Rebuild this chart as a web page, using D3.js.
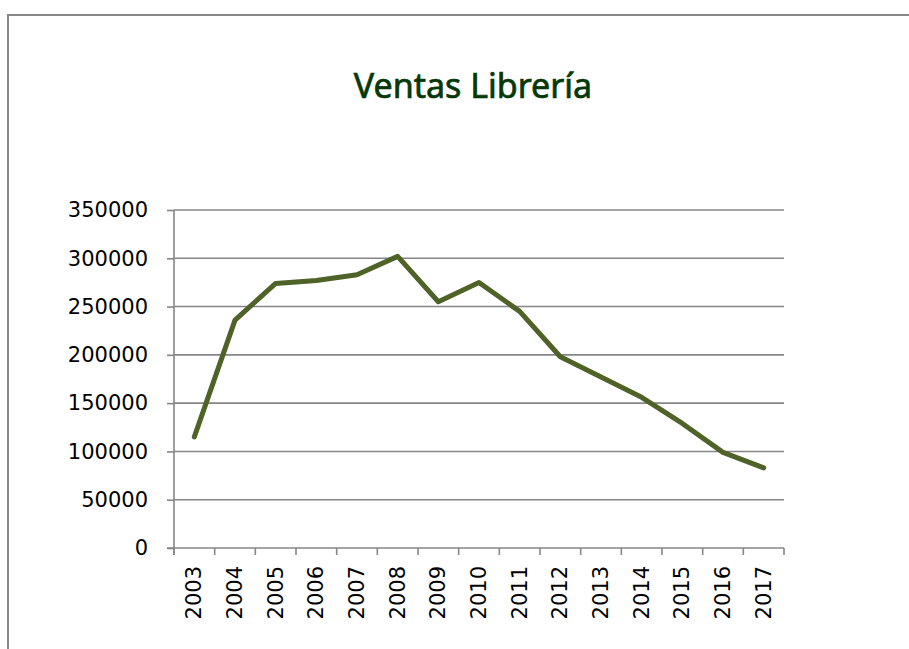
<!DOCTYPE html>
<html>
<head>
<meta charset="utf-8">
<script src="https://cdn.jsdelivr.net/npm/d3@7"></script>
<style>
  body { margin: 0; background: #fff; }
  svg { display: block; }
</style>
</head>
<body>
<div id="chart"></div>
<script>
// Data
const years = ["2003", "2004", "2005", "2006", "2007", "2008", "2009", "2010",
  "2011", "2012", "2013", "2014", "2015", "2016", "2017"]
const sales = [115000, 236000, 274000, 277000, 283000, 302000, 255000, 275000,
  245000, 198000, 177000, 156000, 129000, 99000, 83000]
const yTicks = [0, 50000, 100000, 150000, 200000, 250000, 300000, 350000]
const title = "Ventas Librería"

const W = 909, H = 649
const margin = { top: 210, bottom: 101, left: 174, right: 125 }
const width = W - margin.left - margin.right
const height = H - margin.top - margin.bottom

const svg = d3.select("#chart").append("svg")
  .attr("width", W)
  .attr("height", H)

// outer chart frame (only top and left edges are visible)
svg.append("path")
  .attr("d", `M8,${H} V15 H${W}`)
  .attr("fill", "none")
  .attr("stroke", "#898989")
  .attr("stroke-width", 2)

svg.append("text")
  .attr("x", 473)
  .attr("y", 98)
  .attr("text-anchor", "middle")
  .attr("font-family", "'Noto Sans', sans-serif")
  .attr("font-size", 34)
  .attr("fill", "#063806")
  .attr("stroke", "#063806")
  .attr("stroke-width", 0.7)
  .text(title)

const g = svg.append("g").attr("transform", `translate(${margin.left},${margin.top})`)

// Scales
const xscale = d3.scaleBand().domain(years).range([0, width])
const yscale = d3.scaleLinear().domain([0, 350000]).range([height, 0])

// gridlines
g.append("g")
  .selectAll("line")
  .data(yTicks.slice(1))
  .join("line")
  .attr("x1", 0)
  .attr("x2", width)
  .attr("y1", (d) => yscale(d))
  .attr("y2", (d) => yscale(d))
  .attr("stroke", "#868686")
  .attr("stroke-width", 1.6)

// y axis
const yaxis = d3.axisLeft(yscale).tickValues(yTicks).tickFormat(d3.format("d"))
  .tickSize(7).tickPadding(19)
const g_yaxis = g.append("g").call(yaxis)
g_yaxis.select(".domain").remove()
g_yaxis.append("line")
  .attr("x1", 0).attr("x2", 0).attr("y1", 0).attr("y2", height + 7)
  .attr("stroke", "#868686").attr("stroke-width", 1.6)

// x axis: ticks on band edges
const g_xaxis = g.append("g").attr("transform", `translate(0,${height})`)
g_xaxis.append("line")
  .attr("x1", -7).attr("x2", width).attr("y1", 0).attr("y2", 0)
  .attr("stroke", "#868686").attr("stroke-width", 1.6)
g_xaxis.selectAll(".edge")
  .data(years.concat(["end"]))
  .join("line")
  .attr("class", "edge")
  .attr("x1", (d, i) => i * xscale.step())
  .attr("x2", (d, i) => i * xscale.step())
  .attr("y1", 0).attr("y2", 7)
  .attr("stroke", "#868686").attr("stroke-width", 1.6)
g_xaxis.selectAll(".lbl")
  .data(years)
  .join("text")
  .attr("class", "lbl")
  .attr("transform", (d) => `translate(${xscale(d) + xscale.bandwidth() / 2 + 7},18) rotate(-90)`)
  .attr("text-anchor", "end")
  .attr("font-family", "'DejaVu Sans', sans-serif")
  .attr("font-size", 21)
  .attr("fill", "#000")
  .text((d) => d)

g_yaxis.selectAll(".tick line").attr("stroke", "#868686").attr("stroke-width", 1.6)
g_yaxis.selectAll(".tick text")
  .attr("font-family", "'DejaVu Sans', sans-serif")
  .attr("font-size", 21)
  .attr("fill", "#000")

// the line
const line = d3.line()
  .x((d, i) => xscale(years[i]) + xscale.bandwidth() / 2)
  .y((d) => yscale(d))

g.append("path")
  .datum(sales)
  .attr("d", line)
  .attr("fill", "none")
  .attr("stroke", "#4f6228")
  .attr("stroke-width", 5)
  .attr("stroke-linejoin", "round")
  .attr("stroke-linecap", "round")
</script>
</body>
</html>
